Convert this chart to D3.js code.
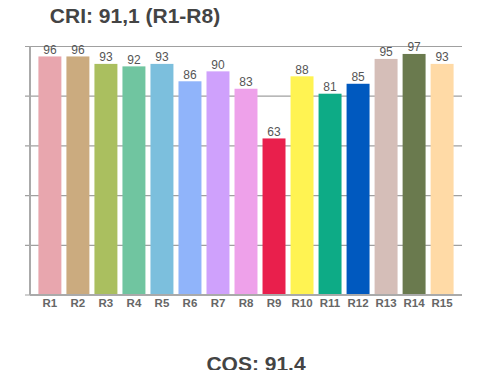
<!DOCTYPE html>
<html>
<head>
<meta charset="utf-8">
<script src="https://cdn.jsdelivr.net/npm/d3@7"></script>
<style>
  body { margin: 0; background: #fff; }
  svg { display: block; font-family: "Liberation Sans", Arial, sans-serif; }
</style>
</head>
<body>
<div id="chart"></div>
<script>
const categories = ["R1","R2","R3","R4","R5","R6","R7","R8","R9","R10","R11","R12","R13","R14","R15"];
const values = [96, 96, 93, 92, 93, 86, 90, 83, 63, 88, 81, 85, 95, 97, 93];
const barColors = ["#e8a6ae","#cbab7f","#aabf5f","#70c5a0","#7cbfdd","#90b4fa","#cfa1fc","#eea1ea",
  "#e91f4c","#fff352","#0dab86","#0059bf","#d5beb8","#6a7a4e","#ffdaa6"];
const yTicks = [0, 20, 40, 60, 80, 100];
const titleText = "CRI: 91,1 (R1-R8)";
const footerText = "CQS: 91.4";

const width = 500, height = 370;
const margin = { top: 46.5, right: 38, bottom: 75, left: 30 };

const svg = d3.select("#chart").append("svg")
  .attr("width", width)
  .attr("height", height);

const x = d3.scaleBand()
  .domain(categories)
  .range([margin.left, width - margin.right])
  .paddingInner(0.18)
  .paddingOuter(0.3);

const y = d3.scaleLinear()
  .domain([0, 100])
  .range([height - margin.bottom, margin.top]);

// gridlines (behind bars)
svg.append("g")
  .selectAll("line")
  .data(yTicks)
  .join("line")
  .attr("x1", margin.left - 5)
  .attr("x2", width - margin.right)
  .attr("y1", d => y(d))
  .attr("y2", d => y(d))
  .attr("stroke", "#a0a0a0")
  .attr("stroke-width", 1.2);

// bars
svg.append("g")
  .selectAll("rect")
  .data(values)
  .join("rect")
  .attr("x", (d, i) => x(categories[i]))
  .attr("y", d => y(d))
  .attr("width", x.bandwidth())
  .attr("height", d => y(0) - y(d))
  .attr("fill", (d, i) => barColors[i]);

// value labels
svg.append("g")
  .selectAll("text")
  .data(values)
  .join("text")
  .attr("x", (d, i) => x(categories[i]) + x.bandwidth() / 2)
  .attr("y", d => y(d) - 2.5)
  .attr("text-anchor", "middle")
  .attr("fill", "#555")
  .style("font-size", "12px")
  .text(d => d);

// axes lines
svg.append("line")
  .attr("x1", margin.left).attr("x2", margin.left)
  .attr("y1", y(100)).attr("y2", y(0))
  .attr("stroke", "#aaa").attr("stroke-width", 2);
svg.append("line")
  .attr("x1", margin.left).attr("x2", width - margin.right)
  .attr("y1", y(0)).attr("y2", y(0))
  .attr("stroke", "#aaa").attr("stroke-width", 2);

// x labels
svg.append("g")
  .selectAll("text")
  .data(categories)
  .join("text")
  .attr("x", d => x(d) + x.bandwidth() / 2)
  .attr("y", y(0) + 12)
  .attr("text-anchor", "middle")
  .attr("fill", "#666")
  .style("font-size", "11.5px")
  .style("font-weight", "bold")
  .text(d => d);

// title + footer
svg.append("text")
  .attr("x", 135)
  .attr("y", 22.5)
  .attr("text-anchor", "middle")
  .attr("fill", "#444")
  .style("font-size", "21px")
  .style("font-weight", "bold")
  .text(titleText);

svg.append("text")
  .attr("x", 256)
  .attr("y", 371)
  .attr("text-anchor", "middle")
  .attr("fill", "#444")
  .style("font-size", "21px")
  .style("font-weight", "bold")
  .text(footerText);
</script>
</body>
</html>
